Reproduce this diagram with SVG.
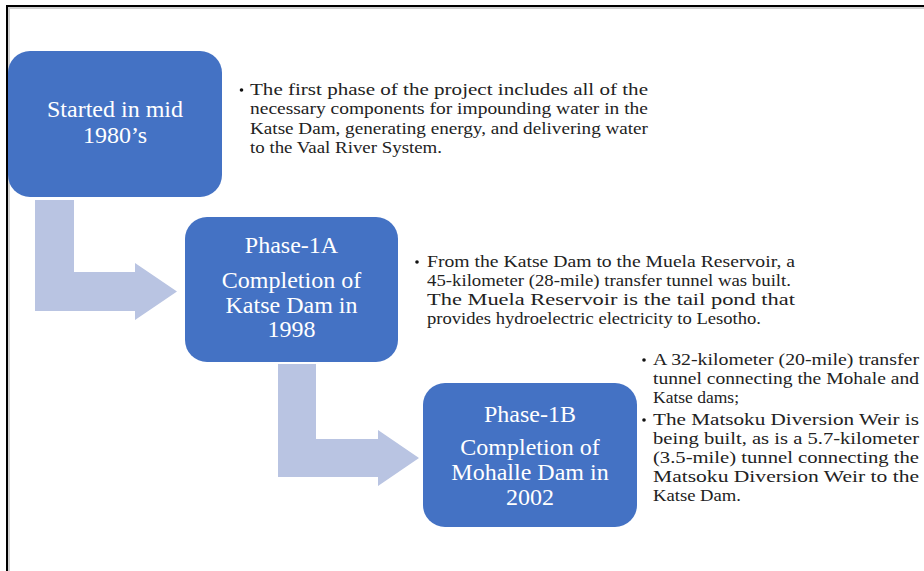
<svg xmlns="http://www.w3.org/2000/svg" width="924" height="571" viewBox="0 0 924 571">
<style>
.box{fill:#4472C4}
.arrow{fill:#B9C4E2}
.bt{font-family:"Liberation Serif","Times New Roman",serif;font-size:24px;fill:#FFFFFF;text-anchor:middle}
.tx{font-family:"Liberation Serif","Times New Roman",serif;font-size:16.5px;fill:#222222}
.dot{fill:#111111}
</style>
<rect x="0" y="0" width="924" height="571" fill="#FFFFFF"/>
<path d="M9,571 V8 H924" fill="none" stroke="#D0D0D0" stroke-width="2"/>
<path d="M7,571 V6 H924" fill="none" stroke="#000000" stroke-width="2"/>

<g id="connectors">
  <polygon class="arrow" points="35,200 74,200 74,272 135,272 135,263 177,291.5 135,320 135,311 35,311"/>
  <polygon class="arrow" points="278,364 316,364 316,439 378,439 378,430 419,458 378,486 378,477 278,477"/>
</g>

<g id="node-start">
  <rect class="box" x="8" y="51" width="214" height="146" rx="22" ry="22"/>
  <text class="bt" x="115" y="117">Started in mid</text>
  <text class="bt" x="115" y="143">1980’s</text>
</g>

<g id="node-phase1a">
  <rect class="box" x="185" y="217" width="213" height="145" rx="22" ry="22"/>
  <text class="bt" x="291.5" y="253">Phase-1A</text>
  <text class="bt" x="291.5" y="288">Completion of</text>
  <text class="bt" x="291.5" y="313">Katse Dam in</text>
  <text class="bt" x="291.5" y="337">1998</text>
</g>

<g id="node-phase1b">
  <rect class="box" x="423" y="383" width="214" height="144" rx="22" ry="22"/>
  <text class="bt" x="530" y="422">Phase-1B</text>
  <text class="bt" x="530" y="455">Completion of</text>
  <text class="bt" x="530" y="480">Mohalle Dam in</text>
  <text class="bt" x="530" y="505">2002</text>
</g>

<g id="note-start">
  <circle class="dot" cx="241.5" cy="90" r="1.8"/>
  <text class="tx" x="250" y="95" textLength="398" lengthAdjust="spacingAndGlyphs">The first phase of the project includes all of the</text>
  <text class="tx" x="250" y="114" textLength="398" lengthAdjust="spacingAndGlyphs">necessary components for impounding water in the</text>
  <text class="tx" x="250" y="133.5" textLength="398" lengthAdjust="spacingAndGlyphs">Katse Dam, generating energy, and delivering water</text>
  <text class="tx" x="250" y="152.5" textLength="192" lengthAdjust="spacingAndGlyphs">to the Vaal River System.</text>
</g>

<g id="note-phase1a">
  <circle class="dot" cx="417" cy="262" r="1.8"/>
  <text class="tx" x="427" y="267" textLength="368" lengthAdjust="spacingAndGlyphs">From the Katse Dam to the Muela Reservoir, a</text>
  <text class="tx" x="427" y="286" textLength="364" lengthAdjust="spacingAndGlyphs">45-kilometer (28-mile) transfer tunnel was built.</text>
  <text class="tx" x="427" y="305" textLength="368" lengthAdjust="spacingAndGlyphs">The Muela Reservoir is the tail pond that</text>
  <text class="tx" x="427" y="324" textLength="334" lengthAdjust="spacingAndGlyphs">provides hydroelectric electricity to Lesotho.</text>
</g>

<g id="note-phase1b">
  <circle class="dot" cx="644" cy="360" r="1.8"/>
  <text class="tx" x="653" y="365" textLength="266" lengthAdjust="spacingAndGlyphs">A 32-kilometer (20-mile) transfer</text>
  <text class="tx" x="653" y="384" textLength="266" lengthAdjust="spacingAndGlyphs">tunnel connecting the Mohale and</text>
  <text class="tx" x="653" y="403" textLength="86" lengthAdjust="spacingAndGlyphs">Katse dams;</text>
  <circle class="dot" cx="644" cy="420" r="1.8"/>
  <text class="tx" x="653" y="425" textLength="266" lengthAdjust="spacingAndGlyphs">The Matsoku Diversion Weir is</text>
  <text class="tx" x="653" y="444" textLength="266" lengthAdjust="spacingAndGlyphs">being built, as is a 5.7-kilometer</text>
  <text class="tx" x="653" y="463" textLength="266" lengthAdjust="spacingAndGlyphs">(3.5-mile) tunnel connecting the</text>
  <text class="tx" x="653" y="482" textLength="266" lengthAdjust="spacingAndGlyphs">Matsoku Diversion Weir to the</text>
  <text class="tx" x="653" y="501" textLength="88" lengthAdjust="spacingAndGlyphs">Katse Dam.</text>
</g>
</svg>
